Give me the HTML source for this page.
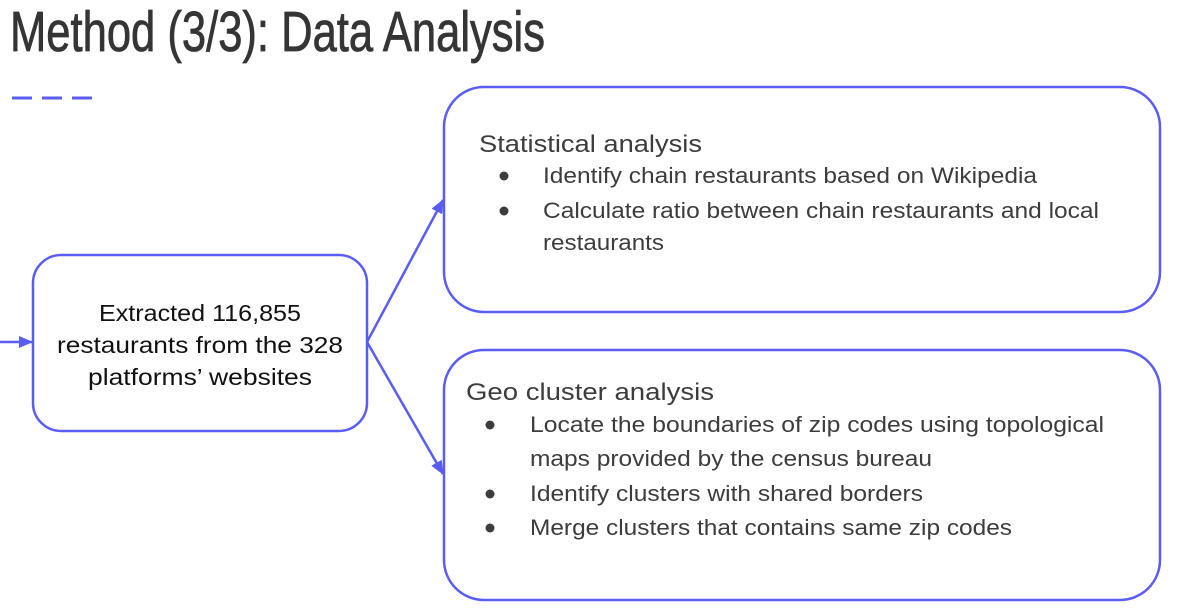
<!DOCTYPE html>
<html><head><meta charset="utf-8"><style>
html,body{margin:0;padding:0;background:#fff;width:1177px;height:615px;overflow:hidden}
svg{display:block}
</style></head><body>
<svg width="1177" height="615" viewBox="0 0 1177 615" xmlns="http://www.w3.org/2000/svg">
<defs>
<marker id="ah" markerWidth="14" markerHeight="12" refX="13" refY="6" orient="auto" markerUnits="userSpaceOnUse">
<path d="M0,0 L14,6 L0,12 z" fill="#5a5cf2"/>
</marker>
</defs>
<text x="10" y="51" font-family="Liberation Sans Narrow, Liberation Sans, sans-serif" font-size="57" fill="#353535" stroke="#353535" stroke-width="0.8" textLength="535" lengthAdjust="spacingAndGlyphs">Method (3/3): Data Analysis</text>
<g stroke="#5a5cf2" stroke-width="3">
<line x1="12" y1="98" x2="32" y2="98"/><line x1="42" y1="98" x2="62" y2="98"/><line x1="72" y1="98" x2="92" y2="98"/>
</g>
<g fill="none" stroke="#5a5cf2" stroke-width="2.5">
<rect x="33" y="255" width="334" height="176" rx="28"/>
<rect x="444" y="87" width="716" height="225" rx="40"/>
<rect x="444" y="350" width="716" height="250" rx="40"/>
<line x1="0" y1="342" x2="32" y2="342" marker-end="url(#ah)"/>
<line x1="367" y1="342" x2="443" y2="200" marker-end="url(#ah)"/>
<line x1="367" y1="342" x2="443" y2="474" marker-end="url(#ah)"/>
</g>
<g font-family="Liberation Sans, sans-serif" font-size="23" fill="#111">
<text x="99" y="321" textLength="202" lengthAdjust="spacingAndGlyphs">Extracted 116,855</text>
<text x="57" y="353" textLength="286" lengthAdjust="spacingAndGlyphs">restaurants from the 328</text>
<text x="88" y="385" textLength="224" lengthAdjust="spacingAndGlyphs">platforms’ websites</text>
</g>
<g font-family="Liberation Sans, sans-serif" font-size="22" fill="#3c3c3c">
<text x="479" y="152" font-size="24" textLength="223" lengthAdjust="spacingAndGlyphs">Statistical analysis</text>
<circle cx="504" cy="176" r="4.5"/><circle cx="504" cy="211" r="4.5"/>
<text x="543" y="183" textLength="494" lengthAdjust="spacingAndGlyphs">Identify chain restaurants based on Wikipedia</text>
<text x="543" y="218" textLength="556" lengthAdjust="spacingAndGlyphs">Calculate ratio between chain restaurants and local</text>
<text x="543" y="250" textLength="121" lengthAdjust="spacingAndGlyphs">restaurants</text>
<text x="466" y="400" font-size="24" textLength="248" lengthAdjust="spacingAndGlyphs">Geo cluster analysis</text>
<circle cx="490" cy="425" r="4.5"/><circle cx="490" cy="494" r="4.5"/><circle cx="490" cy="528" r="4.5"/>
<text x="530" y="432" textLength="574" lengthAdjust="spacingAndGlyphs">Locate the boundaries of zip codes using topological</text>
<text x="530" y="466" textLength="402" lengthAdjust="spacingAndGlyphs">maps provided by the census bureau</text>
<text x="530" y="501" textLength="393" lengthAdjust="spacingAndGlyphs">Identify clusters with shared borders</text>
<text x="530" y="535" textLength="482" lengthAdjust="spacingAndGlyphs">Merge clusters that contains same zip codes</text>
</g>
</svg>
</body></html>
